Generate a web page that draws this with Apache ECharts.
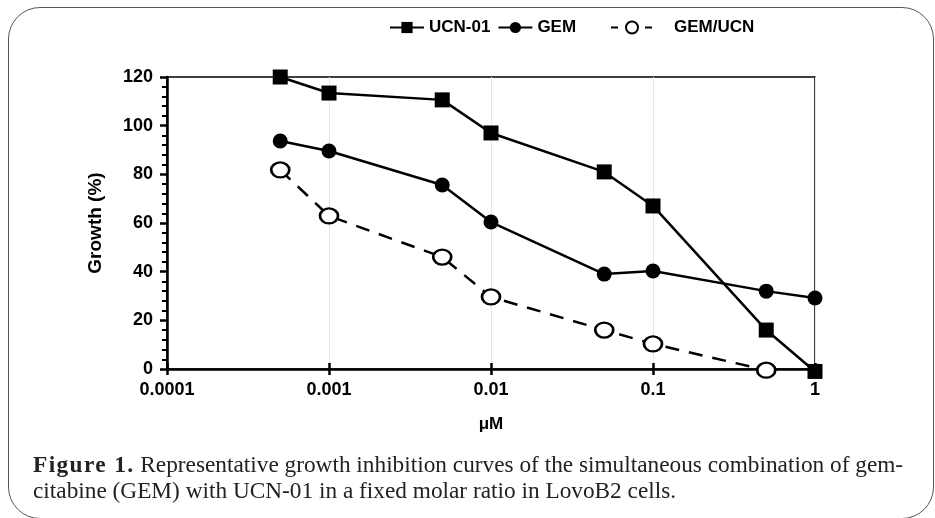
<!DOCTYPE html>
<html>
<head>
<meta charset="utf-8">
<script src="https://cdn.jsdelivr.net/npm/echarts@6/dist/echarts.min.js"></script>
<style>
  html, body { margin:0; padding:0; background:#fff; }
  #wrap { position:relative; width:935px; height:518px; overflow:hidden; }
  #chart { position:absolute; left:0; top:0; width:935px; height:518px; }
  #frame { position:absolute; left:8px; top:7px; width:926px; height:512px; border:1.5px solid #555; border-radius:32px; box-sizing:border-box; pointer-events:none; }
  #caption { position:absolute; left:33px; top:451px; font-family:"Liberation Serif", "DejaVu Serif", serif; font-size:23.3px; line-height:26px; color:#222; white-space:nowrap; }
  #caption b { letter-spacing:1.4px; }
</style>
</head>
<body>
<div id="wrap">
  <div id="chart"></div>
  <div id="frame"></div>
  <div id="caption"><b>Figure 1.</b> Representative growth inhibition curves of the simultaneous combination of gem-<br>citabine (GEM) with UCN-01 in a fixed molar ratio in LovoB2 cells.</div>
</div>
<script>
// Data
const concentrations = [0.0005, 0.001, 0.005, 0.01, 0.05, 0.1, 0.5, 1];
const ucn01 = [120, 113.4, 110.6, 97, 81, 67, 16, -1];
const gem = [93.7, 89.6, 75.6, 60.4, 39, 40.3, 32, 29.2];
const gemUcn = [81.8, 62.9, 46, 29.6, 16, 10.3, -0.5];
const xTickLabels = ['0.0001', '0.001', '0.01', '0.1', '1'];
const seriesNames = ['UCN-01', 'GEM', 'GEM/UCN'];

const pair = (vals) => vals.map((v, i) => [concentrations[i], v]);
const fmtX = (v) => {
  for (const s of xTickLabels) { if (Math.abs(Math.log10(Number(s)) - Math.log10(v)) < 1e-6) return s; }
  return '';
};
const fontBold = { fontFamily: 'Liberation Sans, Arial, sans-serif', fontWeight: 'bold', color: '#000' };

const chart = echarts.init(document.getElementById('chart'));
chart.setOption({
  animation: false,
  grid: { left: 167, right: 120, top: 77, bottom: 149, show: true, borderColor: '#000', borderWidth: 1.5, backgroundColor: 'transparent' },
  legend: [{
    top: 14, left: 384, itemWidth: 34, itemHeight: 14, itemGap: 7,
    textStyle: Object.assign({ fontSize: 17, padding: [0, 0, 0, 0] }, fontBold),
    data: [seriesNames[0], seriesNames[1]]
  }, {
    top: 14, left: 605, itemWidth: 42, itemHeight: 15,
    textStyle: Object.assign({ fontSize: 17, padding: [0, 0, 0, 16] }, fontBold),
    data: [{ name: seriesNames[2], lineStyle: { type: [7, 10] } }]
  }],
  xAxis: [{
    type: 'log', logBase: 10, min: 0.0001, max: 1,
    name: 'μM', nameLocation: 'middle', nameGap: 47,
    nameTextStyle: Object.assign({ fontSize: 17 }, fontBold),
    axisLine: { show: true, onZero: false, lineStyle: { color: '#000', width: 2.5 } },
    axisTick: { show: true, inside: false, length: 6, lineStyle: { color: '#000', width: 2.5 } },
    axisLabel: Object.assign({ fontSize: 18, margin: 12, formatter: fmtX }, fontBold),
    splitLine: { show: true, lineStyle: { color: '#e6e6e6', width: 1 } },
    minorTick: { show: false }, minorSplitLine: { show: false }
  }, {
    type: 'log', logBase: 10, min: 0.0001, max: 1, position: 'bottom',
    axisLine: { show: false },
    axisTick: { show: true, inside: true, length: 6, lineStyle: { color: '#000', width: 2.5 } },
    axisLabel: { show: false }, splitLine: { show: false }
  }],
  yAxis: {
    type: 'value', min: 0, max: 120, interval: 20,
    name: 'Growth (%)', nameLocation: 'middle', nameGap: 62, nameRotate: 90,
    nameTextStyle: Object.assign({ fontSize: 19 }, fontBold),
    axisLine: { show: true, lineStyle: { color: '#000', width: 2.5 } },
    axisTick: { show: true, length: 7, lineStyle: { color: '#000', width: 2.5 } },
    minorTick: { show: true, splitNumber: 5, length: 5, lineStyle: { color: '#000', width: 2 } },
    axisLabel: Object.assign({ fontSize: 18, margin: 14 }, fontBold),
    splitLine: { show: false }
  },
  series: [{
    name: seriesNames[0], type: 'line', data: pair(ucn01), clip: false,
    symbol: 'rect', symbolSize: 15, color: '#000',
    lineStyle: { color: '#000', width: 2.5 }, itemStyle: { color: '#000' }
  }, {
    name: seriesNames[1], type: 'line', data: pair(gem), clip: false,
    symbol: 'circle', symbolSize: 15, color: '#000',
    lineStyle: { color: '#000', width: 2.5 }, itemStyle: { color: '#000' }
  }, {
    name: seriesNames[2], type: 'line', data: pair(gemUcn), clip: false,
    symbol: 'circle', symbolSize: [18, 15], color: '#000',
    lineStyle: { color: '#000', width: 2.5, type: [14, 10] },
    itemStyle: { color: '#fff', borderColor: '#000', borderWidth: 2.5 }
  }]
});
</script>
</body>
</html>
